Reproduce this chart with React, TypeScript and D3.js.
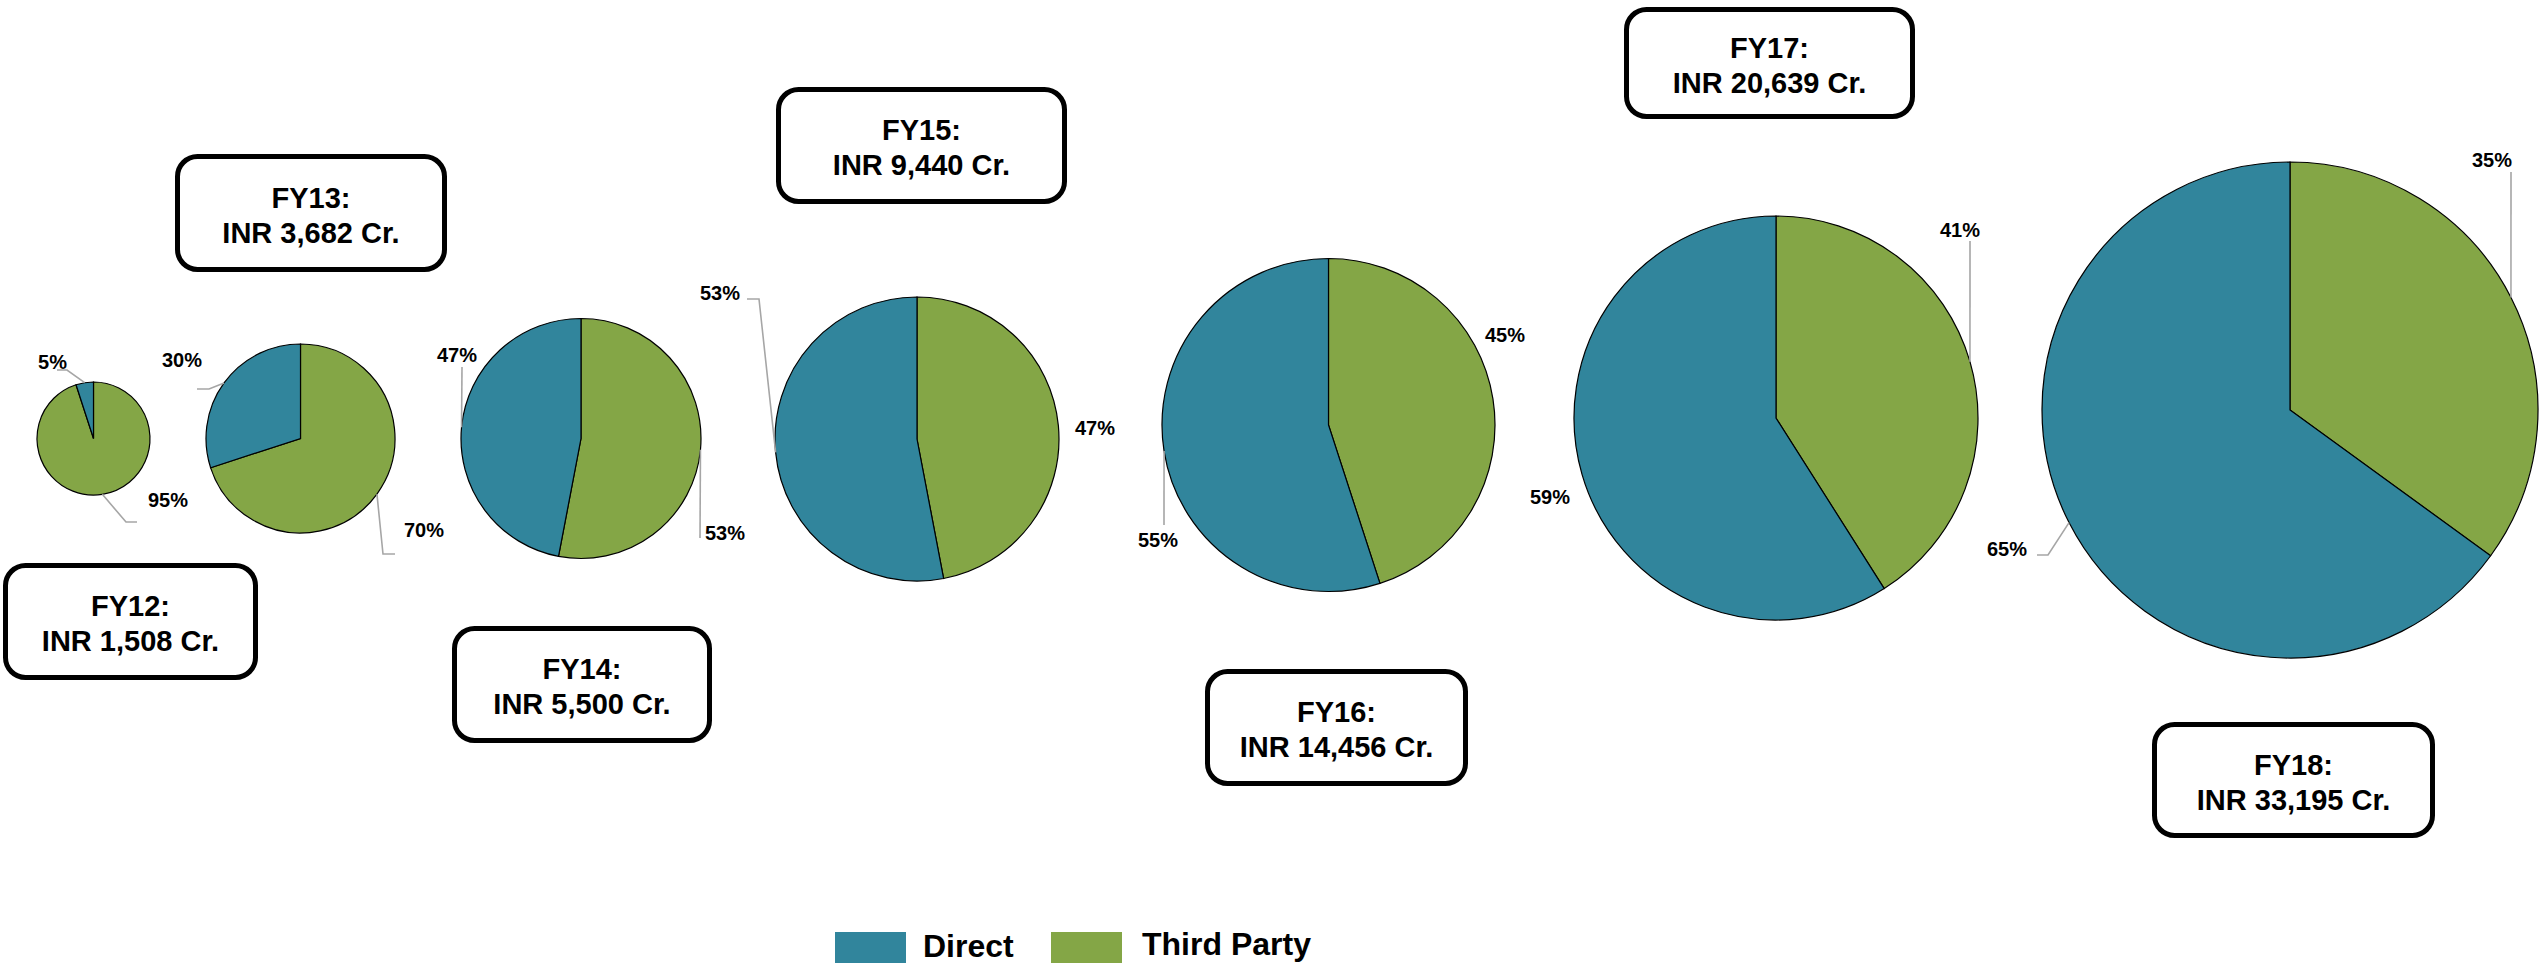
import React from "react";
import * as d3 from "d3";

// ---------- data ----------
const years = ["FY12", "FY13", "FY14", "FY15", "FY16", "FY17", "FY18"];
const totalsCr = [1508, 3682, 5500, 9440, 14456, 20639, 33195];
const directPct = [5, 30, 47, 53, 55, 59, 65];
const thirdPartyPct = [95, 70, 53, 47, 45, 41, 35];
const seriesNames = ["Direct", "Third Party"];

// ---------- layout ----------
const W = 2539;
const H = 963;
const colors = { Direct: "#31859C", "Third Party": "#84A646" };
const FONT = "'Liberation Sans', Arial, Helvetica, sans-serif";

const pieCenters: [number, number][] = [
  [93.5, 438.5], [300.5, 438.5], [581, 438.5], [917, 439], [1328.5, 425], [1776, 418], [2290, 410],
];
const pieRadii = [56.5, 94.5, 120, 142, 166.5, 202, 248];

// box: x, y, w, h (outer)
const boxes: [number, number, number, number][] = [
  [3, 563, 255, 117], [175, 154, 272, 118], [452, 626, 260, 117], [776, 87, 291, 117],
  [1205, 669, 263, 117], [1624, 7, 291, 112], [2152, 722, 283, 116],
];

// label positions: [textX, baselineY], leader points (toward slice edge) or null
type LabelSpec = { x: number; y: number; leader: [number, number][] | null };
const directLabels: LabelSpec[] = [
  { x: 38, y: 369, leader: [[57, 370], [67, 370]] },
  { x: 162, y: 367, leader: [[197, 389], [209, 389]] },
  { x: 437, y: 362, leader: [[462, 367]] },
  { x: 700, y: 300, leader: [[747, 299], [759, 299]] },
  { x: 1138, y: 547, leader: [[1164, 525]] },
  { x: 1530, y: 504, leader: null },
  { x: 1987, y: 556, leader: [[2037, 555], [2048, 555]] },
];
const thirdLabels: LabelSpec[] = [
  { x: 148, y: 507, leader: [[137, 522], [126, 522]] },
  { x: 404, y: 537, leader: [[395, 554], [383, 554]] },
  { x: 705, y: 540, leader: [[700, 538]] },
  { x: 1075, y: 435, leader: null },
  { x: 1485, y: 342, leader: null },
  { x: 1940, y: 237, leader: [[1970, 241]] },
  { x: 2472, y: 167, leader: [[2511, 172]] },
];

const fmt = d3.format(",");

export default function App() {
  const pie = d3
    .pie<{ name: string; value: number }>()
    .sort(null)
    .value((d) => d.value);

  const line = d3.line();

  return (
    <div style={{ position: "absolute", left: 0, top: 0 }}>
      <style>{`body{margin:0}`}</style>
      <svg width={W} height={H} style={{ display: "block", background: "#fff" }} fontFamily={FONT}>
        {years.map((yr, i) => {
          const [cx, cy] = pieCenters[i];
          const r = pieRadii[i];
          const slices = pie([
            { name: "Third Party", value: thirdPartyPct[i] },
            { name: "Direct", value: directPct[i] },
          ]);
          const arc = d3.arc<d3.PieArcDatum<{ name: string; value: number }>>().innerRadius(0).outerRadius(r);
          const edgePoint = (s: d3.PieArcDatum<any>): [number, number] => {
            const a = (s.startAngle + s.endAngle) / 2;
            return [cx + r * Math.sin(a), cy - r * Math.cos(a)];
          };
          const [bx, by, bw, bh] = boxes[i];
          const bcx = bx + bw / 2;
          const bcy = by + bh / 2;
          return (
            <g key={yr}>
              <g transform={`translate(${cx},${cy})`}>
                {slices.map((s) => (
                  <path
                    key={s.data.name}
                    d={arc(s) || ""}
                    fill={(colors as any)[s.data.name]}
                    stroke="#000"
                    strokeWidth={1.2}
                  />
                ))}
              </g>
              {slices.map((s) => {
                const spec = s.data.name === "Direct" ? directLabels[i] : thirdLabels[i];
                const pts = spec.leader ? [...spec.leader, edgePoint(s)] : null;
                return (
                  <g key={"lab" + s.data.name}>
                    {pts && (
                      <path d={line(pts as [number, number][]) || ""} fill="none" stroke="#A6A6A6" strokeWidth={1.6} />
                    )}
                    <text x={spec.x} y={spec.y} fontSize={20} fontWeight="bold" fill="#000">
                      {s.data.value}%
                    </text>
                  </g>
                );
              })}
              <rect
                x={bx + 2.5}
                y={by + 2.5}
                width={bw - 5}
                height={bh - 5}
                rx={20}
                ry={20}
                fill="#fff"
                stroke="#000"
                strokeWidth={5}
              />
              <text x={bcx} y={bcy - 5.5} textAnchor="middle" fontSize={29} fontWeight="bold" fill="#000">
                {yr}:
              </text>
              <text x={bcx} y={bcy + 29.5} textAnchor="middle" fontSize={29} fontWeight="bold" fill="#000">
                {`INR ${fmt(totalsCr[i])} Cr.`}
              </text>
            </g>
          );
        })}
        {/* legend */}
        <g>
          <rect x={835} y={932} width={71} height={32} fill={colors.Direct} />
          <text x={923} y={957} fontSize={32} fontWeight="bold" fill="#000">{seriesNames[0]}</text>
          <rect x={1051} y={932} width={71} height={32} fill={colors["Third Party"]} />
          <text x={1142} y={955} fontSize={32} fontWeight="bold" fill="#000">{seriesNames[1]}</text>
        </g>
      </svg>
    </div>
  );
}
